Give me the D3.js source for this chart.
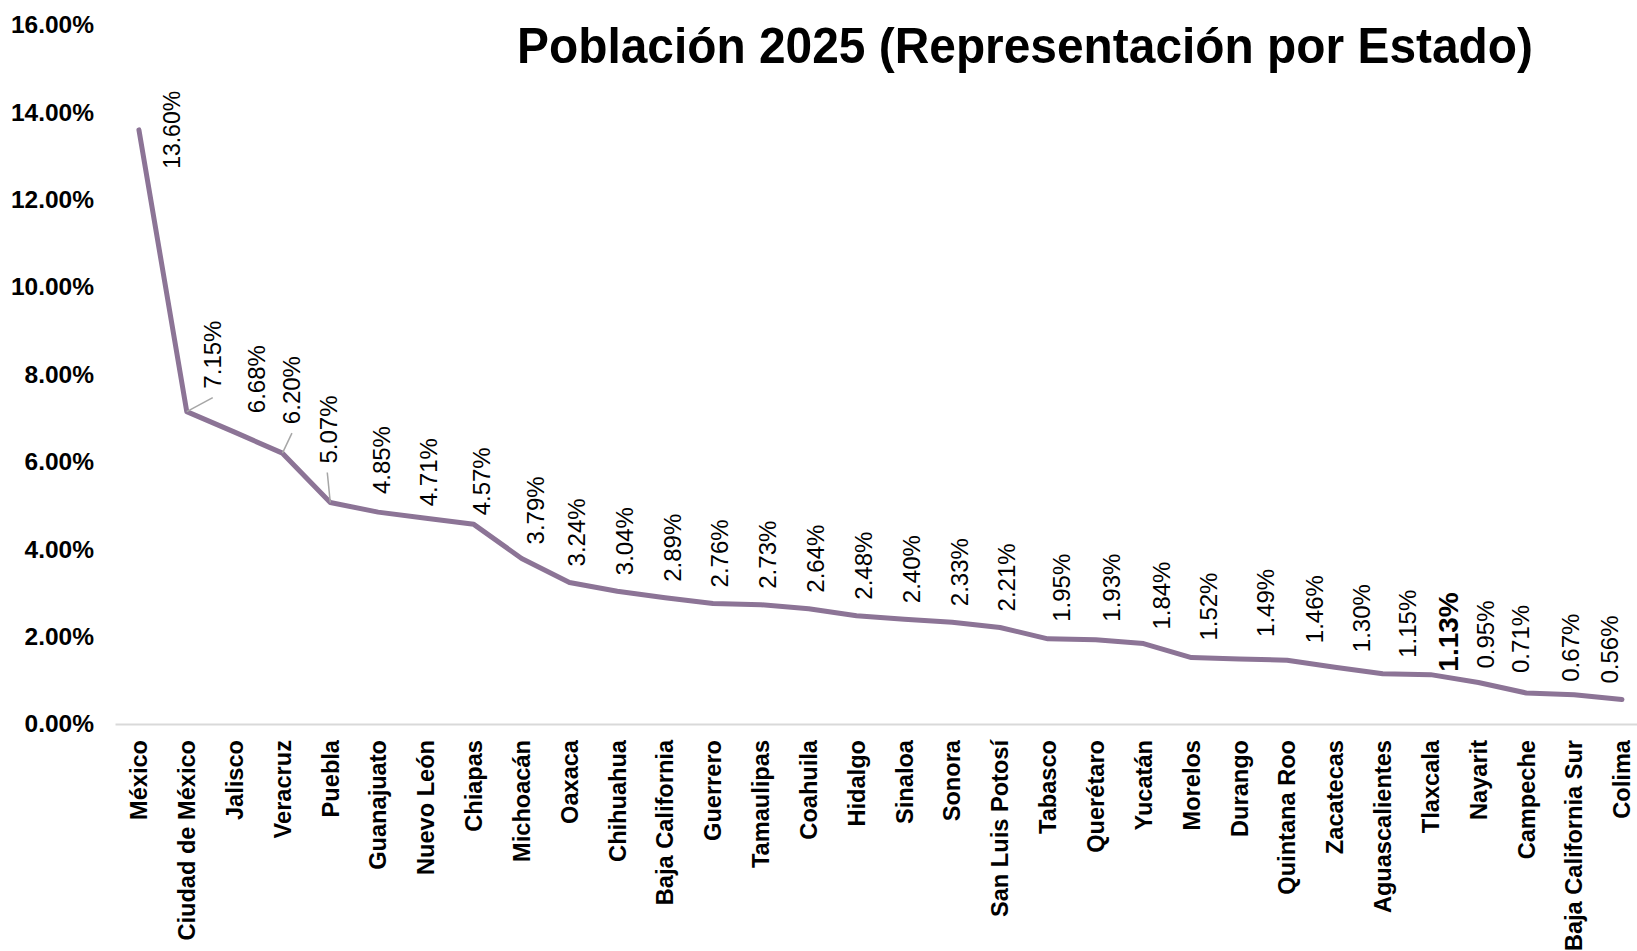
<!DOCTYPE html>
<html>
<head>
<meta charset="utf-8">
<script src="https://cdn.jsdelivr.net/npm/d3@7"></script>
<style>
  html, body { margin: 0; padding: 0; background: #fff; }
  svg { display: block; font-family: "Liberation Sans", Arial, sans-serif; }
</style>
</head>
<body>
<svg id="chart" width="1637" height="951"></svg>
<script>
const title = "Población 2025 (Representación por Estado)";
const categories = ["México", "Ciudad de México", "Jalisco", "Veracruz", "Puebla", "Guanajuato", "Nuevo León", "Chiapas", "Michoacán", "Oaxaca", "Chihuahua", "Baja California", "Guerrero", "Tamaulipas", "Coahuila", "Hidalgo", "Sinaloa", "Sonora", "San Luis Potosí", "Tabasco", "Querétaro", "Yucatán", "Morelos", "Durango", "Quintana Roo", "Zacatecas", "Aguascalientes", "Tlaxcala", "Nayarit", "Campeche", "Baja California Sur", "Colima"];
const values = [13.60, 7.15, 6.68, 6.20, 5.07, 4.85, 4.71, 4.57, 3.79, 3.24, 3.04, 2.89, 2.76, 2.73, 2.64, 2.48, 2.40, 2.33, 2.21, 1.95, 1.93, 1.84, 1.52, 1.49, 1.46, 1.30, 1.15, 1.13, 0.95, 0.71, 0.67, 0.56];
const yTicks = [0, 2, 4, 6, 8, 10, 12, 14, 16];
const highlighted = "Tlaxcala";

(function () {
const svg = d3.select("#chart");
const plotLeft = 115, plotBottom = 724, plotTop = 25, step = 47.84;
const x = d3.scaleBand().domain(categories).range([plotLeft, plotLeft + step * categories.length]).padding(0);
const y = d3.scaleLinear().domain([0, 16]).range([plotBottom, plotTop]);
const cx = c => x(c) + x.bandwidth() / 2;

// Title
svg.append("text")
  .attr("x", 517).attr("y", 63)
  .attr("textLength", 1016).attr("lengthAdjust", "spacingAndGlyphs")
  .style("font-size", "50px").style("font-weight", "bold").style("fill", "#000")
  .text(title);

// Y axis
const yAxis = svg.append("g").attr("transform", `translate(${plotLeft},0)`)
  .call(d3.axisLeft(y).tickValues(yTicks).tickFormat(d => d.toFixed(2) + "%").tickSize(0).tickPadding(21));
yAxis.select(".domain").remove();
yAxis.selectAll("text").style("font-size", "24.5px").style("font-weight", "bold").style("fill", "#000")
  .style("font-family", "'Liberation Sans', Arial, sans-serif");

// X axis
const xAxis = svg.append("g").attr("transform", `translate(0,${plotBottom})`)
  .call(d3.axisBottom(x).tickSize(0));
xAxis.select(".domain").attr("stroke", "#D9D9D9").attr("stroke-width", 2);
xAxis.selectAll("text")
  .attr("transform", "rotate(-90)")
  .attr("x", -16).attr("y", 0).attr("dy", "0.35em")
  .style("text-anchor", "end")
  .style("font-size", "23.6px").style("font-weight", "bold").style("fill", "#000")
  .style("font-family", "'Liberation Sans', Arial, sans-serif");

// Line
const line = d3.line().x((d, i) => cx(categories[i])).y(d => y(d));
svg.append("path").datum(values)
  .attr("d", line)
  .attr("fill", "none").attr("stroke", "#8C7496").attr("stroke-width", 5)
  .attr("stroke-linejoin", "round").attr("stroke-linecap", "round");

// Data labels (Excel-like manual placement for some labels)
const labelNudge = {
  "México": { dx: 33, up: 0, mode: "right" },
  "Ciudad de México": { dx: 26, up: 23, leader: [26, -14] },
  "Jalisco": { dx: 22, up: 19 },
  "Veracruz": { dx: 9.5, up: 29, leader: [9.5, -20] },
  "Puebla": { dx: -2, up: 39, leader: [-3, -30] },
  "Guanajuato": { dx: 3, up: 18 },
  "Nuevo León": { dx: 3, up: 12 },
  "Chiapas": { dx: 8, up: 9 },
  "Michoacán": { dx: 14, up: 14 },
  "Tabasco": { dx: 14, up: 17 },
  "Querétaro": { dx: 16, up: 18 },
  "Yucatán": { dx: 18, up: 14 },
  "Morelos": { dx: 17, up: 17 },
  "Durango": { dx: 26, up: 22 },
  "Quintana Roo": { dx: 28, up: 17 },
  "Zacatecas": { dx: 27, up: 15 },
  "Aguascalientes": { dx: 25, up: 16 },
  "Tlaxcala": { dx: 18, up: 3 },
  "Nayarit": { dx: 7, up: 14 },
  "Campeche": { dx: -6, up: 20 },
  "Baja California Sur": { dx: -4, up: 13 },
  "Colima": { dx: -12, up: 16 }
};
const lbl = svg.append("g");
values.forEach((v, i) => {
  const c = categories[i];
  const px = cx(c), py = y(v);
  const n = labelNudge[c] || { dx: 7, up: 16 };
  if (n.leader) {
    lbl.append("line")
      .attr("x1", px).attr("y1", py)
      .attr("x2", px + n.leader[0]).attr("y2", py + n.leader[1])
      .attr("stroke", "#A6A6A6").attr("stroke-width", 1.5);
  }
  const bold = c === highlighted;
  lbl.append("text")
    .attr("transform", `translate(${px + n.dx},${py - n.up}) rotate(-90)`)
    .attr("dy", "0.35em")
    .style("text-anchor", n.mode === "right" ? "middle" : "start")
    .style("font-size", bold ? "28px" : (n.mode === "right" ? "23px" : "24px"))
    .style("font-weight", bold ? "bold" : "normal")
    .style("fill", "#000")
    .text(v.toFixed(2) + "%");
});
})();
</script>
</body>
</html>
